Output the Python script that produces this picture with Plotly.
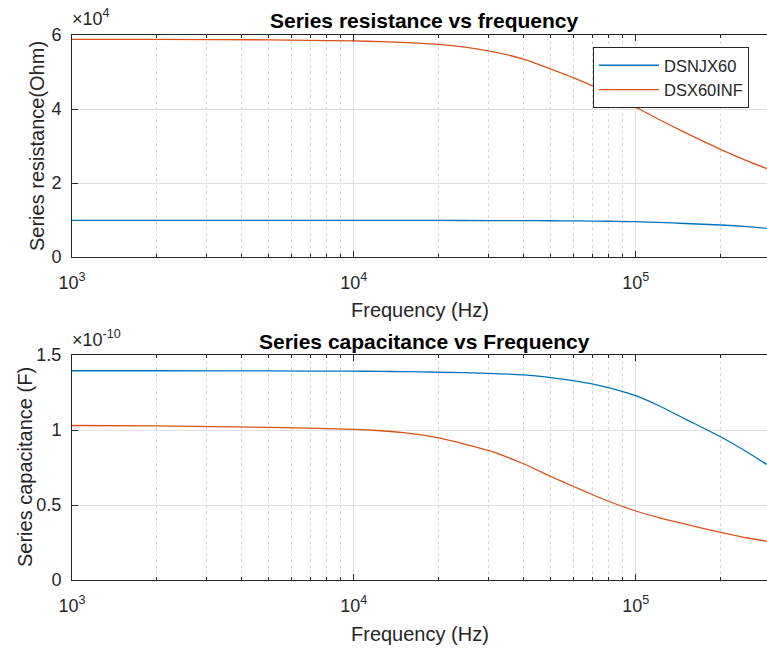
import plotly.graph_objects as go

# ---- data ----
freq_r = [1e3, 2e3, 5e3, 1e4, 1.24e4, 2e4, 3e4, 4e4, 5e4, 6e4, 7e4, 8e4, 9e4, 1e5, 1.2e5, 1.5e5, 2e5, 2.5e5, 2.92e5]
res_dsnjx60 = [0.99e4, 0.99e4, 0.99e4, 0.99e4, 0.99e4, 0.988e4, 0.985e4, 0.983e4, 0.98e4, 0.976e4, 0.972e4, 0.966e4, 0.96e4,
               0.955e4, 0.935e4, 0.905e4, 0.865e4, 0.82e4, 0.776e4]
res_dsx60inf = [5.88e4, 5.88e4, 5.87e4, 5.84e4, 5.82e4, 5.745e4, 5.57e4, 5.35e4, 5.08e4, 4.85e4, 4.63e4, 4.42e4, 4.23e4,
                4.05e4, 3.73e4, 3.36e4, 2.91e4, 2.59e4, 2.39e4]

freq_c = [1e3, 2e3, 5e3, 1e4, 1.24e4, 1.5e4, 2e4, 3e4, 4e4, 5e4, 6e4, 7e4, 8e4, 9e4, 1e5, 1.2e5, 1.5e5, 2e5, 2.5e5, 2.92e5]
cap_dsnjx60 = [1.395e-10, 1.395e-10, 1.394e-10, 1.392e-10, 1.391e-10, 1.389e-10, 1.385e-10, 1.378e-10, 1.367e-10,
               1.349e-10, 1.329e-10, 1.307e-10, 1.282e-10, 1.256e-10, 1.229e-10, 1.165e-10, 1.073e-10, 0.955e-10,
               0.85e-10, 0.77e-10]
cap_dsx60inf = [1.03e-10, 1.027e-10, 1.018e-10, 1.004e-10, 0.995e-10, 0.982e-10, 0.947e-10, 0.864e-10, 0.775e-10,
                0.69e-10, 0.625e-10, 0.57e-10, 0.525e-10, 0.49e-10, 0.46e-10, 0.417e-10, 0.372e-10, 0.318e-10,
                0.28e-10, 0.258e-10]

series_names = ["DSNJX60", "DSX60INF"]
x_major = [1e3, 1e4, 1e5]
x_major_text = ["10<sup>3</sup>", "10<sup>4</sup>", "10<sup>5</sup>"]
x_minor = [m * d for d in (1e3, 1e4, 1e5) for m in range(2, 10)]
res_ticks = [0, 2e4, 4e4, 6e4]
res_tick_text = ["0", "2", "4", "6"]
cap_ticks = [0, 0.5e-10, 1e-10, 1.5e-10]
cap_tick_text = ["0", "0.5", "1", "1.5"]

BLUE = "#0072BD"
ORANGE = "#D95319"
AX = "#262626"
GRID = "#dfdfdf"
FONT = "Liberation Sans, Arial, sans-serif"

W, H = 767, 651

fig = go.Figure()
LINE = dict(width=1.3, shape="spline", smoothing=0.6)
fig.add_trace(go.Scatter(x=freq_r, y=res_dsnjx60, name=series_names[0], mode="lines",
                         line=dict(color=BLUE, **LINE), xaxis="x", yaxis="y"))
fig.add_trace(go.Scatter(x=freq_r, y=res_dsx60inf, name=series_names[1], mode="lines",
                         line=dict(color=ORANGE, **LINE), xaxis="x", yaxis="y"))
fig.add_trace(go.Scatter(x=freq_c, y=cap_dsnjx60, name=series_names[0], mode="lines", showlegend=False,
                         line=dict(color=BLUE, **LINE), xaxis="x2", yaxis="y2"))
fig.add_trace(go.Scatter(x=freq_c, y=cap_dsx60inf, name=series_names[1], mode="lines", showlegend=False,
                         line=dict(color=ORANGE, **LINE), xaxis="x2", yaxis="y2"))

def xaxis(anchor):
    return dict(type="log", range=[3, 5.466], domain=[72 / W, 1], anchor=anchor, automargin=False,
                tickvals=x_major, ticktext=x_major_text, ticks="inside", ticklen=6,
                tickcolor=AX, linecolor=AX, linewidth=1, mirror="allticks", showline=True,
                showgrid=True, gridcolor=GRID, gridwidth=1, zeroline=False,
                tickfont=dict(size=18, color=AX, family=FONT), ticklabelstandoff=9,
                minor=dict(tickvals=x_minor, ticks="inside", ticklen=3, tickcolor=AX,
                           showgrid=True, gridcolor="#d6d6d6", griddash="dot", gridwidth=1))

def yaxis(anchor, dom, rng, tv, tt):
    return dict(domain=dom, anchor=anchor, range=rng, tickvals=tv, ticktext=tt, automargin=False,
                ticks="inside", ticklen=6, tickcolor=AX, linecolor=AX, linewidth=1,
                showline=True, mirror=False, showgrid=True, gridcolor=GRID, zeroline=False,
                tickfont=dict(size=18, color=AX, family=FONT), ticklabelstandoff=6)

top_dom = [1 - 257 / H, 1 - 35 / H]
bot_dom = [1 - 580 / H, 1 - 355 / H]

fig.update_layout(
    width=W, height=H, margin=dict(l=0, r=0, t=0, b=0),
    paper_bgcolor="white", plot_bgcolor="white",
    font=dict(family=FONT, color=AX),
    xaxis=xaxis("y"),
    yaxis=yaxis("x", top_dom, [0, 6e4], res_ticks, res_tick_text),
    xaxis2=xaxis("y2"),
    yaxis2=yaxis("x2", bot_dom, [0, 1.5e-10], cap_ticks, cap_tick_text),
    legend=dict(x=593 / W, y=1 - 47 / H, xanchor="left", yanchor="top",
                bordercolor=AX, borderwidth=1, bgcolor="white",
                font=dict(size=16.5, color=AX, family=FONT), tracegroupgap=0,
                itemwidth=60),
    showlegend=True,
)

def ann(text, x, y, size=16, bold=False, angle=0, xanchor="center", yanchor="middle", color=AX):
    fig.add_annotation(text=f"<b>{text}</b>" if bold else text, x=x / W, y=1 - y / H,
                       xref="paper", yref="paper", showarrow=False, textangle=angle,
                       xanchor=xanchor, yanchor=yanchor,
                       font=dict(size=size, color=color, family=FONT))

ann("Series resistance vs frequency", 425, 20, size=21, bold=True, color="#000000")
ann("Series capacitance vs Frequency", 424, 341, size=21, bold=True, color="#000000")
ann("×10<sup>4</sup>", 70, 18, size=18, xanchor="left")
ann("×10<sup>-10</sup>", 70, 338, size=18, xanchor="left")
ann("Frequency (Hz)", 420, 310, size=20)
ann("Frequency (Hz)", 420, 634, size=20)
ann("Series resistance(Ohm)", 37, 146, size=20, angle=-90)
ann("Series capacitance (F)", 25, 467, size=20, angle=-90)

fig.write_html("out.html", config={"displayModeBar": False},
               post_script="document.body.style.margin='0';document.body.style.overflow='hidden';")
